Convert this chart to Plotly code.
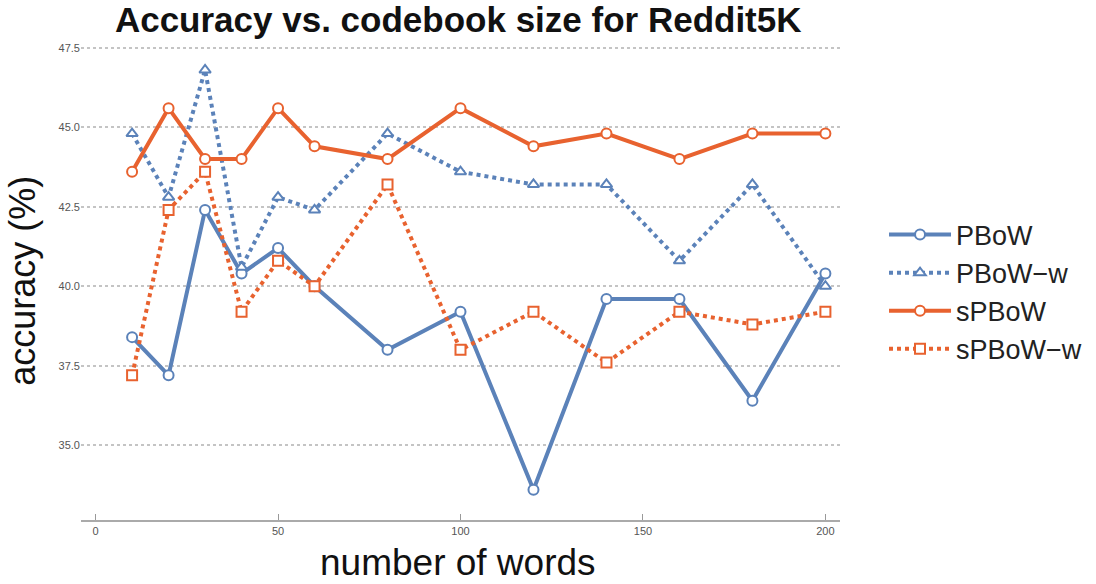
import plotly.graph_objects as go

words = [10, 20, 30, 40, 50, 60, 80, 100, 120, 140, 160, 180, 200]
pbow = [38.4, 37.2, 42.4, 40.4, 41.2, 40.0, 38.0, 39.2, 33.6, 39.6, 39.6, 36.4, 40.4]
pbow_w = [44.8, 42.8, 46.8, 40.6, 42.8, 42.4, 44.8, 43.6, 43.2, 43.2, 40.8, 43.2, 40.0]
spbow = [43.6, 45.6, 44.0, 44.0, 45.6, 44.4, 44.0, 45.6, 44.4, 44.8, 44.0, 44.8, 44.8]
spbow_w = [37.2, 42.4, 43.6, 39.2, 40.8, 40.0, 43.2, 38.0, 39.2, 37.6, 39.2, 38.8, 39.2]

x_ticks = [0, 50, 100, 150, 200]
y_ticks = [35.0, 37.5, 40.0, 42.5, 45.0, 47.5]

BLUE = "#5B82B9"
ORANGE = "#E8622F"

series = [
    ("PBoW", pbow, BLUE, "solid", "circle"),
    ("PBoW\u2212w", pbow_w, BLUE, "dot", "triangle-up"),
    ("sPBoW", spbow, ORANGE, "solid", "circle"),
    ("sPBoW\u2212w", spbow_w, ORANGE, "dot", "square"),
]

fig = go.Figure()
for name, vals, col, dash, sym in series:
    fig.add_trace(go.Scatter(
        x=words, y=vals, name=name, mode="lines+markers",
        line=dict(color=col, width=4, dash=dash),
        marker=dict(symbol=sym, size=10, color="white",
                    line=dict(color=col, width=2)),
    ))

fig.update_layout(
    width=1096, height=584,
    margin=dict(l=81, r=256, t=42, b=64, autoexpand=False),
    plot_bgcolor="white", paper_bgcolor="white",
    font=dict(family="Liberation Sans, Arial, sans-serif", color="#222"),
    title=dict(text="<b>Accuracy vs. codebook size for Reddit5K</b>",
               x=0.497, xref="paper", xanchor="center",
               y=1 - 20 / 584, yref="container", yanchor="middle",
               font=dict(size=35, color="#111")),
    showlegend=True,
    legend=dict(x=1.058, xanchor="left", y=0.477, yanchor="middle",
                font=dict(size=27, color="#222"), itemwidth=62,
                bgcolor="rgba(0,0,0,0)"),
    xaxis=dict(range=[-4, 204], tickvals=x_ticks, ticks="inside", ticklen=6,
               tickcolor="#999", showline=True, linecolor="#aaa", linewidth=1.5,
               showgrid=False, zeroline=False,
               tickfont=dict(size=11, color="#555")),
    yaxis=dict(range=[32.65, 47.68], tickvals=y_ticks, tickformat=".1f",
               showgrid=True, gridcolor="#c4c4c4", griddash="dot", gridwidth=1.5,
               showline=False, zeroline=False, ticks="",
               tickfont=dict(size=11, color="#555")),
    annotations=[
        dict(text="number of words", xref="paper", yref="paper",
             x=0.497, y=-0.088, xanchor="center", yanchor="middle",
             showarrow=False, font=dict(size=37, color="#111")),
        dict(text="accuracy (%)", xref="paper", yref="paper",
             x=-0.078, y=0.5, xanchor="center", yanchor="middle",
             textangle=-90, showarrow=False, font=dict(size=36, color="#111")),
    ],
)

fig.write_html("out.html")
